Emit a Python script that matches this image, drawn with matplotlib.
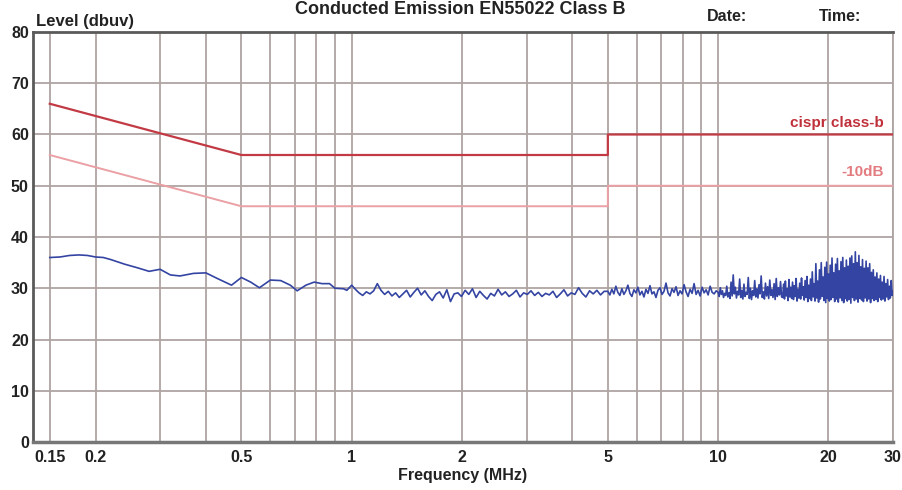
import numpy as np
import matplotlib
matplotlib.use("Agg")
import matplotlib.pyplot as plt

plt.rcParams["font.family"] = ["Liberation Sans Narrow", "Liberation Sans", "DejaVu Sans"]
plt.rcParams["font.weight"] = "bold"

# Grenzwerte (CISPR class B, quasi-peak) und -10 dB Linie
lim_freq = [0.15, 0.5, 5, 5, 30]
lim_cispr = [66, 56, 56, 60, 60]
lim_minus10 = [56, 46, 46, 50, 50]

# Messkurve 0.15 - 1 MHz (einzelne Punkte)
trace_a_freq = [0.15, 0.16, 0.17, 0.18, 0.19, 0.20, 0.21, 0.22, 0.24, 0.26, 0.28, 0.30,
                0.32, 0.34, 0.37, 0.40, 0.43, 0.47, 0.50, 0.53, 0.56, 0.60, 0.64, 0.68,
                0.71, 0.75, 0.79, 0.83, 0.87, 0.90, 0.95, 0.97]
trace_a_level = [36.0, 36.1, 36.4, 36.5, 36.4, 36.1, 36.0, 35.6, 34.7, 34.0, 33.3, 33.7,
                 32.6, 32.4, 32.9, 33.0, 31.9, 30.6, 32.1, 31.2, 30.1, 31.6, 31.5, 30.6,
                 29.5, 30.6, 31.2, 30.9, 30.9, 30.0, 29.9, 29.6]

# Sweep-Abschnitte: (start MHz, stop MHz, Pegel)
trace_b_level = [30.6, 29.8, 29.1, 28.6, 29.3, 28.9, 29.5, 30.9, 29.6, 28.8, 29.4, 28.5,
                 29.1, 28.2, 28.9, 29.6, 28.3, 29.2, 30.0, 28.7, 29.5, 28.4, 27.6, 28.8,
                 29.3, 28.1, 29.7, 27.4, 28.9, 29.1, 28.4, 29.6, 28.8, 29.9, 28.2, 29.4,
                 28.6, 27.9, 29.0, 28.5, 29.8, 28.7, 29.3, 28.4, 28.9, 29.6, 28.3, 29.1,
                 28.8, 29.5, 28.6, 29.2, 28.4, 29.0, 28.7, 29.4, 28.2, 28.9, 29.7, 28.5,
                 29.1, 28.8, 30.1, 29.0, 28.3, 29.5, 28.9, 29.6, 28.7, 29.4]
trace_c_level = [29.4, 28.7, 29.8, 28.9, 30.4, 29.2, 28.6, 29.9, 28.8, 29.5, 30.6, 29.0,
                 28.4, 29.7, 29.1, 30.2, 28.7, 29.4, 28.3, 29.8, 29.0, 30.5, 28.9, 29.3,
                 28.2, 29.6, 30.1, 28.8, 29.4, 31.0, 29.1, 28.5, 29.9, 29.2, 30.3, 28.6,
                 29.5, 28.9, 30.7, 29.3, 28.4, 29.8, 29.0, 30.9, 28.8, 29.6, 28.5, 30.2,
                 29.1, 29.7, 28.7, 30.4, 29.2, 28.9, 29.5]
trace_d_level = [29.2, 28.4, 30.1, 28.8, 29.5, 28.2, 29.0, 28.6, 30.4, 28.3, 29.1, 28.0,
                 31.2, 28.5, 32.6, 28.9, 30.2, 28.1, 29.4, 28.7, 31.8, 28.2, 29.6, 27.9,
                 30.8, 28.4, 29.2, 28.8, 32.1, 28.0, 30.0, 27.8, 29.5, 28.6, 31.5, 28.3,
                 29.9, 28.1, 30.7, 28.9, 32.4, 28.2, 29.3, 27.9, 31.0, 28.5, 30.3, 28.0,
                 31.6, 28.6, 29.7, 28.2, 30.9, 27.8, 31.9, 28.4, 30.1, 28.7, 31.3, 28.3]
trace_e_level = [28.2, 30.8, 27.9, 31.4, 28.5, 29.9, 27.6, 31.7, 28.3, 30.2, 28.0, 31.2,
                 27.8, 30.5, 28.4, 31.9, 27.5, 29.8, 28.1, 31.0, 27.9, 32.0, 28.6, 30.3,
                 27.7, 31.5, 28.2, 32.3, 27.4, 30.6, 28.0, 31.8, 27.6, 33.2, 28.3, 30.9,
                 27.5, 34.8, 28.1, 31.4, 27.3, 33.6, 27.9, 35.0, 28.4, 32.2, 27.6, 34.1,
                 27.2, 35.1, 28.0, 32.8, 27.5, 34.5, 27.8, 35.9, 28.2, 33.0, 27.4, 34.7,
                 27.9, 35.8, 27.3, 33.4, 28.1, 35.2, 27.6, 36.0, 27.2, 34.0, 28.0, 35.5,
                 27.5, 34.3, 27.8, 35.9, 27.1, 36.3, 28.2, 34.8, 27.6, 37.1, 27.9, 35.0,
                 27.3, 36.4, 28.0, 34.2,
                 27.7, 35.6, 27.4, 33.9, 28.1, 35.3, 27.5, 34.0, 27.9, 34.8, 27.2, 33.1,
                 28.0, 33.6, 27.6, 32.2, 27.8, 33.0, 27.4, 31.8, 28.2, 32.5, 27.7, 31.2,
                 27.9, 32.3, 27.5, 30.9, 28.3, 31.7, 27.8, 30.4, 28.1, 31.5, 28.6, 29.4]
sweeps = [(1, 5, trace_b_level), (5, 10, trace_c_level),
          (10, 15, trace_d_level), (15, 30, trace_e_level)]

grid_freq = [0.15, 0.2, 0.3, 0.4, 0.5, 0.6, 0.7, 0.8, 0.9, 1, 2, 3, 4, 5, 6, 7, 8, 9,
             10, 20, 30]
tick_labels = {0.15: "0.15", 0.2: "0.2", 0.5: "0.5", 1: "1", 2: "2", 5: "5",
               10: "10", 20: "20", 30: "30"}
level_ticks = [0, 10, 20, 30, 40, 50, 60, 70, 80]

# Frequenzpunkte der Sweeps (logarithmisch wie beim Analysator)
freq = list(trace_a_freq)
level = list(trace_a_level)
for i, (f0, f1, lv) in enumerate(sweeps):
    last = i == len(sweeps) - 1
    freq += list(np.geomspace(f0, f1, len(lv), endpoint=last))
    level += lv

fig = plt.figure(figsize=(9.03, 4.9), dpi=100)
ax = fig.add_axes([33 / 903, 1 - 442 / 490, 860 / 903, 410 / 490])
ax.set_xscale("log")
ax.set_xlim(0.135, 30)
ax.set_ylim(0, 80)

grid_col = "#aea4a2"
for f in grid_freq:
    ax.axvline(f, color=grid_col, lw=1.3, zorder=1)
for y in level_ticks[1:]:
    ax.axhline(y, color=grid_col, lw=1.3, zorder=1)

ax.plot(lim_freq, lim_cispr, color="#c23a44", lw=1.6, zorder=3)
ax.plot(lim_freq, lim_minus10, color="#eaa0a4", lw=1.4, zorder=3)
ax.plot(freq, level, color="#3444a2", lw=1.2, zorder=4)

ax.text(0.989, 60.8, "cispr class-b", transform=ax.get_yaxis_transform(),
        ha="right", va="bottom", color="#c0303a", fontsize=11)
ax.text(0.989, 51.3, "-10dB", transform=ax.get_yaxis_transform(),
        ha="right", va="bottom", color="#e37c80", fontsize=11)

ax.set_xticks(grid_freq)
ax.set_xticklabels([tick_labels.get(f, "") for f in grid_freq])
ax.xaxis.set_minor_locator(matplotlib.ticker.NullLocator())
ax.set_yticks(level_ticks)
ax.set_yticklabels([str(v) for v in level_ticks])
ax.tick_params(length=0, labelsize=11.5, colors="#222222")
ax.tick_params(axis="x", pad=6)
ax.tick_params(axis="y", pad=3)

for side in ["left", "top"]:
    ax.spines[side].set_color("#5a5a5a")
    ax.spines[side].set_linewidth(2)
ax.spines["bottom"].set_color("#777777")
ax.spines["bottom"].set_linewidth(2.5)
ax.spines["right"].set_color(grid_col)
ax.spines["right"].set_linewidth(1.3)

ax.set_xlabel("Frequency (MHz)", fontsize=11.5, fontweight="bold", labelpad=2,
              color="#222222")

fig.text(460 / 903, 1 - 14 / 490, "Conducted Emission EN55022 Class B",
         ha="center", va="baseline", fontsize=13, color="#222222")
fig.text(36 / 903, 1 - 26 / 490, "Level (dbuv)", ha="left", va="baseline",
         fontsize=12, color="#222222")
fig.text(707 / 903, 1 - 21 / 490, "Date:", ha="left", va="baseline",
         fontsize=11.5, color="#222222")
fig.text(819 / 903, 1 - 21 / 490, "Time:", ha="left", va="baseline",
         fontsize=11.5, color="#222222")

fig.savefig("out.png", dpi=100)
